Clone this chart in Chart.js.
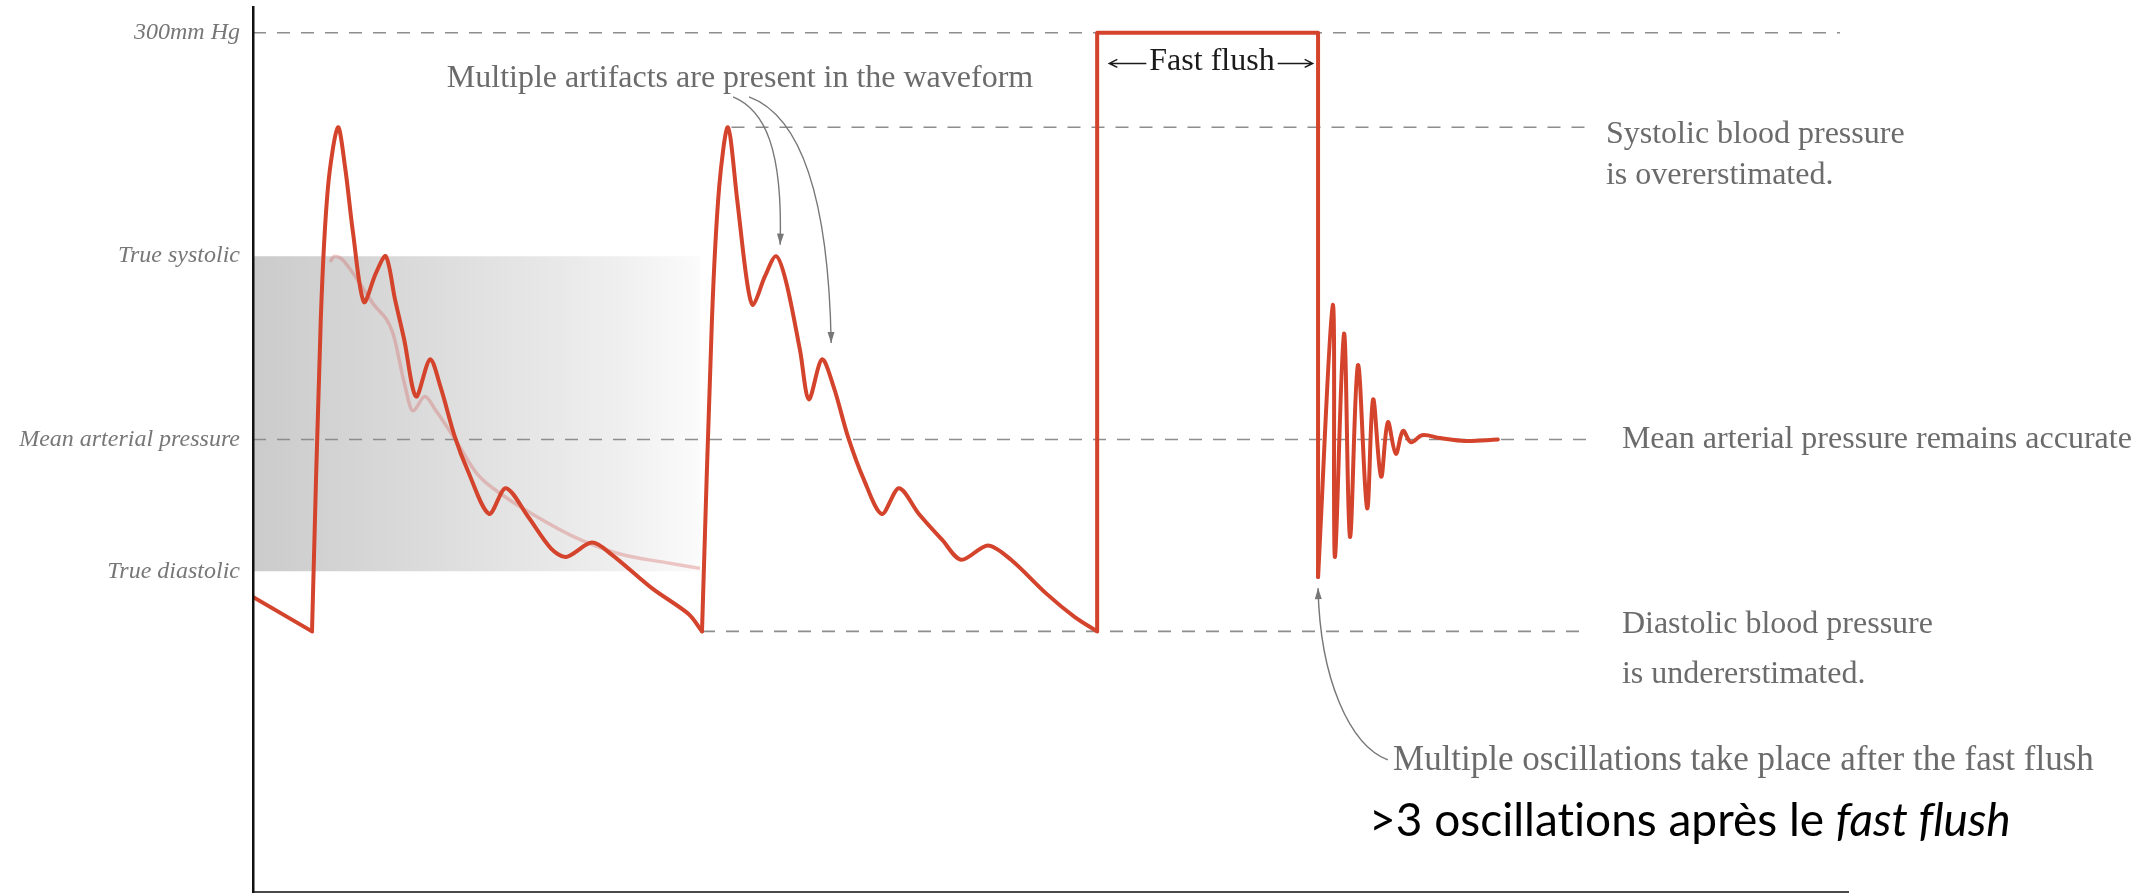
<!DOCTYPE html>
<html>
<head>
<meta charset="utf-8">
<script src="https://cdn.jsdelivr.net/npm/chart.js@4.4.1/dist/chart.umd.min.js"></script>
<style>
  html, body { margin: 0; padding: 0; background: #fff; }
  #wrap { width: 2146px; height: 896px; }
</style>
</head>
<body>
<div id="wrap"><canvas id="waveChart" width="2146" height="896"></canvas></div>
<script>
// time in ms, pressure in mmHg

// diastolic run-off before the first upstroke
var leadTime = [0, 148];
var leadPressure = [103, 91];

// first beat (underdamped trace)
var beat1Time = [148, 170, 188, 213, 231, 251, 278, 308, 333, 356, 379, 409, 444, 471, 506, 539, 592, 634, 690, 747, 785, 850, 898, 1001, 1093, 1126];
var beat1Pressure = [91, 200, 246, 267, 253, 230, 206, 216, 222, 207, 193, 173, 186, 176, 159, 147, 132, 141, 131, 120, 117, 122, 118, 106, 97, 91];

// second beat
var beat2Time = [1126, 1151, 1169, 1191, 1214, 1239, 1254, 1284, 1312, 1337, 1372, 1394, 1427, 1457, 1492, 1532, 1577, 1620, 1670, 1728, 1776, 1843, 1901, 1991, 2061, 2117];
var beat2Pressure = [91, 200, 246, 267, 242, 213, 205, 215, 222, 213, 189, 172, 186, 176, 159, 144, 132, 141, 132, 123, 116, 121, 116, 104, 96, 91];

// fast flush square wave
var flushTime = [2117, 2117, 2671, 2671];
var flushPressure = [91, 300, 300, 110];

// ringing after the flush
var ringTime = [2671, 2708, 2713, 2736, 2751, 2771, 2794, 2809, 2829, 2846, 2866, 2884, 2904, 2932, 2977, 3040, 3122];
var ringPressure = [110, 205, 117, 195, 124, 184, 134, 172, 145, 164, 153, 161, 157, 159.5, 158.5, 157.5, 158];

// true arterial pressure under the first beat
var trueTime = [193, 205, 223, 251, 298, 351, 379, 401, 431, 459, 507, 562, 632, 712, 805, 920, 1036, 1121];
var truePressure = [220, 222, 221, 216, 206, 195, 178, 168, 173, 168, 158, 146, 138, 131, 124, 118, 115, 113];

// y axis levels
var levelNames = ['True diastolic', 'Mean arterial pressure', 'True systolic', '300mm Hg'];
var levelValues = [112, 158, 222, 300];

var measuredSystolic = 267;
var measuredDiastolic = 91;
var trueBandEnd = 1121;

function toPoints(xs, ys) {
  return xs.map(function(x, i) { return { x: x, y: ys[i] }; });
}

var RED = '#d4432b';
var GREY_TEXT = '#6b6b6b';
var SERIF = '"Liberation Serif", "Times New Roman", serif';

function trace(label, xs, ys, tension) {
  return {
    label: label,
    data: toPoints(xs, ys),
    borderColor: RED,
    borderWidth: 4,
    tension: tension,
    borderJoinStyle: 'round',
    borderCapStyle: 'round',
    order: 0
  };
}

function dashed(x0, x1, y) {
  return {
    data: [{ x: x0, y: y }, { x: x1, y: y }],
    borderColor: '#8d8d8d',
    borderWidth: 1.6,
    borderDash: [13, 11],
    tension: 0,
    order: 1
  };
}

// text and arrows drawn over the plot
var annotations = {
  id: 'annotations',
  afterDraw: function(chart) {
    var ctx = chart.ctx;
    var xs = chart.scales.x, ys = chart.scales.y;
    var px = function(t) { return xs.getPixelForValue(t); };
    var py = function(p) { return ys.getPixelForValue(p); };

    ctx.save();
    ctx.textBaseline = 'middle';
    ctx.textAlign = 'left';
    ctx.font = '32px ' + SERIF;
    ctx.fillStyle = GREY_TEXT;

    ctx.fillText('Multiple artifacts are present in the waveform', px(486), py(284));

    ctx.fillText('Systolic blood pressure', px(3393), py(264.3));
    ctx.fillText('is overerstimated.', px(3393), py(264.3) + 41);

    ctx.fillText('Mean arterial pressure remains accurate', px(3433), py(levelValues[1]));

    ctx.fillText('Diastolic blood pressure', px(3433), py(93.2));
    ctx.fillText('is undererstimated.', px(3433), py(93.2) + 50);

    ctx.font = '35px ' + SERIF;
    ctx.fillText('Multiple oscillations take place after the fast flush', px(2859), py(45.7));

    // fast flush label with arrows on both sides
    ctx.font = '32px ' + SERIF;
    ctx.fillStyle = '#1a1a1a';
    ctx.strokeStyle = '#1a1a1a';
    ctx.lineWidth = 1.5;
    var label = 'Fast flush';
    var cx = px(2405), cy = py(290);
    var w = ctx.measureText(label).width;
    ctx.textAlign = 'center';
    ctx.fillText(label, cx, cy);
    var ay = cy + 2;
    var l0 = cx - w / 2 - 40, l1 = cx - w / 2 - 3;
    var r0 = cx + w / 2 + 3, r1 = cx + w / 2 + 38;
    ctx.beginPath();
    ctx.moveTo(l1, ay); ctx.lineTo(l0, ay);
    ctx.moveTo(l0 + 8, ay - 4); ctx.lineTo(l0, ay); ctx.lineTo(l0 + 8, ay + 4);
    ctx.moveTo(r0, ay); ctx.lineTo(r1, ay);
    ctx.moveTo(r1 - 8, ay - 4); ctx.lineTo(r1, ay); ctx.lineTo(r1 - 8, ay + 4);
    ctx.stroke();

    // curved pointers
    ctx.strokeStyle = '#777';
    ctx.fillStyle = '#777';
    ctx.lineWidth = 1.4;
    var pointers = [
      [[1204, 277.6], [1284, 273], [1329, 259.4], [1322, 226]],
      [[1244, 277.6], [1347, 272.3], [1442, 252.1], [1450, 191.7]],
      [[2846, 46.1], [2751, 51.3], [2676, 74], [2671, 106.1]]
    ];
    pointers.forEach(function(c) {
      var p = c.map(function(q) { return [px(q[0]), py(q[1])]; });
      ctx.beginPath();
      ctx.moveTo(p[0][0], p[0][1]);
      ctx.bezierCurveTo(p[1][0], p[1][1], p[2][0], p[2][1], p[3][0], p[3][1]);
      ctx.stroke();
      var a = Math.atan2(p[3][1] - p[2][1], p[3][0] - p[2][0]);
      var len = 11, half = 3.5;
      ctx.beginPath();
      ctx.moveTo(p[3][0], p[3][1]);
      ctx.lineTo(p[3][0] - len * Math.cos(a) + half * Math.sin(a), p[3][1] - len * Math.sin(a) - half * Math.cos(a));
      ctx.lineTo(p[3][0] - len * Math.cos(a) - half * Math.sin(a), p[3][1] - len * Math.sin(a) + half * Math.cos(a));
      ctx.closePath();
      ctx.fill();
    });

    // french caption, last two words in italics
    ctx.textAlign = 'left';
    ctx.fillStyle = '#000';
    ctx.textRendering = 'optimizeSpeed';
    var fx = px(2799), fy = py(24.8);
    var plain = '>3 oscillations après le ';
    ctx.font = '46px Lato, "Open Sans", sans-serif';
    ctx.fillText(plain, fx, fy);
    var pw = ctx.measureText(plain).width;
    ctx.font = 'italic 46px Lato, "Open Sans", sans-serif';
    ctx.fillText('fast flush', fx + pw, fy);

    ctx.restore();
  }
};

new Chart(document.getElementById('waveChart'), {
  type: 'line',
  data: {
    datasets: [
      trace('Run-off', leadTime, leadPressure, 0),
      trace('Beat 1', beat1Time, beat1Pressure, 0.3),
      trace('Beat 2', beat2Time, beat2Pressure, 0.3),
      trace('Fast flush', flushTime, flushPressure, 0),
      trace('Ringing', ringTime, ringPressure, 0.35),
      dashed(0, 3980, 300),
      dashed(1200, 3353, measuredSystolic),
      dashed(0, 3358, levelValues[1]),
      dashed(1126, 3353, measuredDiastolic),
      {
        label: 'True pressure',
        data: toPoints(trueTime, truePressure),
        borderColor: 'rgba(212, 100, 95, 0.34)',
        borderWidth: 3.5,
        cubicInterpolationMode: 'monotone',
        order: 2
      },
      {
        label: 'True range',
        data: [{ x: 0, y: levelValues[2] }, { x: trueBandEnd, y: levelValues[2] }],
        borderWidth: 0,
        tension: 0,
        fill: { value: levelValues[0] },
        backgroundColor: function(context) {
          var chart = context.chart;
          if (!chart.chartArea) return 'rgba(0,0,0,0)';
          var xs = chart.scales.x;
          var g = chart.ctx.createLinearGradient(xs.getPixelForValue(0), 0, xs.getPixelForValue(trueBandEnd), 0);
          g.addColorStop(0, '#cbcbcb');
          g.addColorStop(0.4, '#dcdcdc');
          g.addColorStop(0.8, '#eeeeee');
          g.addColorStop(1, '#fbfbfb');
          return g;
        },
        order: 3
      }
    ]
  },
  options: {
    responsive: false,
    animation: false,
    layout: { padding: { top: 7, right: 298, bottom: 4, left: 0 } },
    elements: { point: { radius: 0, hoverRadius: 0 } },
    plugins: { legend: { display: false }, tooltip: { enabled: false } },
    scales: {
      x: {
        type: 'linear',
        min: 0,
        max: 4000,
        ticks: { display: false },
        grid: { display: false },
        border: { display: true, color: '#4a4a4a', width: 2 },
        afterFit: function(s) { s.height = 0; }
      },
      y: {
        type: 'linear',
        min: 0,
        max: 309,
        afterBuildTicks: function(s) {
          s.ticks = levelValues.map(function(v) { return { value: v }; });
        },
        ticks: {
          padding: 5,
          color: '#777',
          font: { family: SERIF, size: 24, style: 'italic' },
          callback: function(value) { return levelNames[levelValues.indexOf(value)]; }
        },
        grid: { display: false },
        border: { display: true, color: '#111', width: 2.5, z: 1 },
        afterFit: function(s) {
          s.width = 253;
          s.paddingTop = 0;
          s.paddingBottom = 0;
        }
      }
    }
  },
  plugins: [annotations]
});
</script>
</body>
</html>
